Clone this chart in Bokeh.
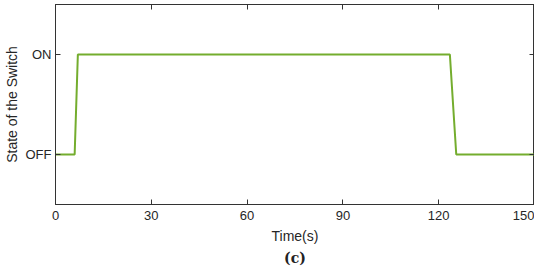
from bokeh.plotting import figure
from bokeh.models import LinearAxis, FixedTicker, Title
from bokeh.embed import file_html
from bokeh.resources import INLINE

time_s = [0, 6, 7, 123.5, 125.5, 150]
state = [0, 0, 1, 1, 0, 0]
x_ticks = [0, 30, 60, 90, 120, 150]
y_ticks = [0, 1]
y_labels = {0: "OFF", 1: "ON"}

GREEN = "#74ad2e"
AX = "#333333"
FONT = "Liberation Sans"

p = figure(width=534, height=267, output_backend="svg", toolbar_location=None,
           x_range=(0, 150), y_range=(-0.5, 1.5),
           min_border_left=0, min_border_right=0, min_border_top=4, min_border_bottom=0)
p.background_fill_color = "white"
p.border_fill_color = "white"
p.outline_line_color = AX
p.outline_line_width = 1
p.grid.visible = False

p.line(time_s, state, line_color=GREEN, line_width=2)

for ax in (p.xaxis[0], p.yaxis[0]):
    ax.axis_line_color = AX
    ax.major_tick_line_color = AX
    ax.major_tick_in = 5
    ax.major_tick_out = 0
    ax.minor_tick_line_color = None
    ax.major_label_text_font = FONT
    ax.major_label_text_font_size = "13px"
    ax.major_label_text_color = "#262626"
    ax.axis_label_text_font = FONT
    ax.axis_label_text_font_size = "14px"
    ax.axis_label_text_font_style = "normal"
    ax.axis_label_text_color = "#262626"

p.xaxis[0].ticker = FixedTicker(ticks=x_ticks)
p.xaxis[0].axis_label = "Time(s)"
p.xaxis[0].major_label_standoff = 6
p.xaxis[0].axis_label_standoff = 5
p.yaxis[0].ticker = FixedTicker(ticks=y_ticks)
p.yaxis[0].major_label_overrides = y_labels
p.yaxis[0].axis_label = "State of the Switch"
p.yaxis[0].major_label_standoff = 4
p.yaxis[0].axis_label_standoff = 3

top = LinearAxis(ticker=FixedTicker(ticks=x_ticks),
                 major_label_overrides={t: "" for t in x_ticks},
                 major_label_text_font_size="1px",
                 major_tick_in=5, major_tick_out=0, minor_tick_line_color=None,
                 axis_line_color=AX, major_tick_line_color=AX, major_label_standoff=0)
right = LinearAxis(ticker=FixedTicker(ticks=y_ticks),
                   major_label_overrides={t: "" for t in y_ticks},
                   major_label_text_font_size="1px",
                   major_tick_in=5, major_tick_out=0, minor_tick_line_color=None,
                   axis_line_color=AX, major_tick_line_color=AX, major_label_standoff=0)
p.add_layout(top, "above")
p.add_layout(right, "right")

cap = Title(text="(c)", align="center", text_font="DejaVu Serif", text_font_size="14px",
            text_font_style="bold", text_color="#222222", standoff=3, offset=-10)
p.add_layout(cap, "below")

open("out.html", "w").write(file_html(p, INLINE))
